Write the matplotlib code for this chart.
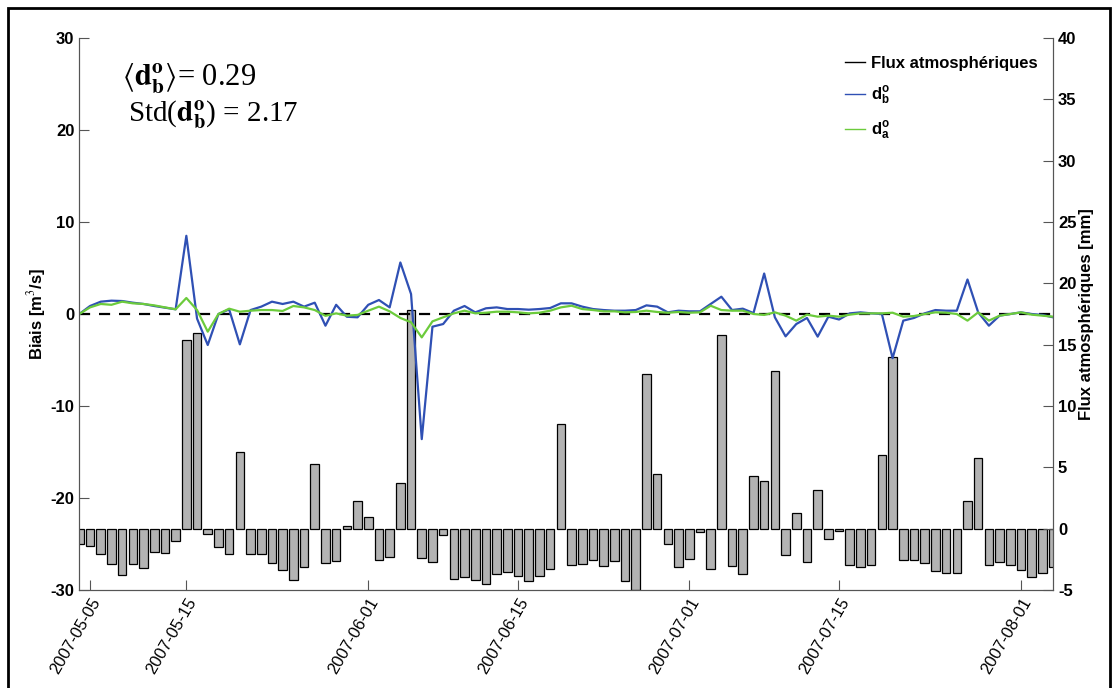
import numpy as np
import matplotlib
matplotlib.use('Agg')
import matplotlib.pyplot as plt
from matplotlib.lines import Line2D
from matplotlib.patches import Rectangle

plt.rcParams['font.family'] = ['Liberation Sans', 'DejaVu Sans']
plt.rcParams['mathtext.fontset'] = 'stix'
plt.rcParams['axes.unicode_minus'] = False

# daily values, day 0 = 2007-05-05
flux = [-1.22, -1.44, -2.04, -2.88, -3.75, -2.88, -3.23, -1.93, -1.98, -1.0,
        15.4, 15.95, -0.41, -1.52, -2.04, 6.22, -2.09, -2.09, -2.8, -3.37,
        -4.16, -3.15, 5.27, -2.8, -2.66, 0.24, 2.28, 0.92, -2.58, -2.31,
        3.72, 17.8, -2.39, -2.72, -0.52, -4.1, -3.94, -4.16, -4.51, -3.72,
        -3.53, -3.86, -4.24, -3.86, -3.29, 8.56, -2.96, -2.88, -2.58, -3.07,
        -2.66, -4.24, -4.97, 12.6, 4.48, -1.22, -3.15, -2.45, -0.3, -3.29,
        15.8, -3.02, -3.67, 4.27, 3.86, 12.85, -2.15, 1.28, -2.72, 3.15,
        -0.87, -0.19, -2.96, -3.15, -2.96, 6.0, 14.0, -2.58, -2.58, -2.8,
        -3.42, -3.6, -3.6, 2.28, 5.76, -2.93, -2.72, -2.93, -3.34, -3.97,
        -3.6, -3.12]

d_b = [0.0, 0.87, 1.34, 1.45, 1.41, 1.23, 1.09, 0.87, 0.69, 0.51,
       8.5, -0.5, -3.37, 0.0, 0.5, -3.3, 0.43, 0.8, 1.34, 1.09,
       1.34, 0.8, 1.23, -1.27, 1.0, -0.3, -0.36, 1.0, 1.52, 0.72,
       5.6, 2.17, -13.6, -1.38, -1.09, 0.36, 0.87, 0.18, 0.62, 0.72,
       0.54, 0.54, 0.47, 0.54, 0.65, 1.16, 1.16, 0.8, 0.54, 0.43,
       0.36, 0.36, 0.43, 0.94, 0.8, 0.18, 0.36, 0.29, 0.29, 1.09,
       1.88, 0.43, 0.58, 0.1, 4.4, -0.36, -2.43, -1.09, -0.43, -2.46,
       -0.29, -0.6, 0.07, 0.18, 0.07, 0.0, -4.8, -0.72, -0.43, 0.07,
       0.43, 0.36, 0.36, 3.75, 0.18, -1.27, -0.18, 0.0, 0.18, 0.0,
       -0.1, -0.36]

d_a = [0.0, 0.72, 1.09, 1.0, 1.34, 1.16, 1.09, 0.94, 0.72, 0.51,
       1.74, 0.43, -1.92, 0.0, 0.58, 0.25, 0.36, 0.43, 0.43, 0.33,
       0.87, 0.72, 0.43, -0.2, 0.07, -0.18, -0.1, 0.36, 0.8, 0.29,
       -0.43, -0.9, -2.54, -0.8, -0.36, 0.07, 0.36, 0.07, 0.14, 0.25,
       0.25, 0.18, 0.07, 0.14, 0.36, 0.72, 0.9, 0.54, 0.43, 0.29,
       0.29, 0.18, 0.22, 0.36, 0.22, 0.14, 0.22, 0.14, 0.18, 0.9,
       0.43, 0.36, 0.36, 0.0, -0.1, 0.18, -0.18, -0.72, -0.07, -0.29,
       -0.18, -0.29, -0.07, 0.07, 0.07, 0.07, 0.14, -0.29, -0.22, 0.0,
       0.18, 0.14, 0.0, -0.72, 0.18, -0.72, -0.18, 0.0, 0.18, -0.07,
       -0.18, -0.29]

tick_days = [1, 10, 27, 41, 57, 71, 88]
tick_labels = ['2007-05-05', '2007-05-15', '2007-06-01', '2007-06-15',
               '2007-07-01', '2007-07-15', '2007-08-01']

days = np.arange(len(flux))

fig = plt.figure(figsize=(11.19, 6.88), dpi=100)
ax = fig.add_axes([0.0709, 0.1424, 0.8702, 0.8024])
ax2 = ax.twinx()

ax2.bar(days, flux, width=0.8, color='#b3b3b3', edgecolor='black', linewidth=0.9)
ax2.set_ylim(-5, 40)
ax2.set_yticks(np.arange(-5, 41, 5))

ax.set_zorder(ax2.get_zorder() + 1)
ax.patch.set_visible(False)
ax.axhline(0, color='black', linestyle='--', linewidth=1.6, dashes=(5, 4))
ax.plot(days, d_b, color='#2f50b4', linewidth=1.6)
ax.plot(days, d_a, color='#6ccb3c', linewidth=1.6)
ax.set_ylim(-30, 30)
ax.set_yticks(np.arange(-30, 31, 10))
ax.set_xlim(0, 91)
ax.set_xticks(tick_days)
ax.set_xticklabels(tick_labels, rotation=60, ha='right', rotation_mode='anchor', fontsize=12)

for a in (ax, ax2):
    a.spines['top'].set_visible(False)
    for s in a.spines.values():
        s.set_color('#555555')
    a.tick_params(direction='in', length=7, color='#555555', labelsize=12)
for lab in ax.get_yticklabels() + ax2.get_yticklabels():
    lab.set_fontweight('bold')

ax.set_ylabel('Biais [m$^3$/s]', fontsize=12, fontweight='bold', labelpad=2)
ax2.set_ylabel('Flux atmosphériques [mm]', fontsize=12, fontweight='bold', labelpad=2)

ax.text(0.044, 0.926, r'$\langle\mathbf{d}_{\mathbf{b}}^{\mathbf{o}}\rangle$= 0.29',
        transform=ax.transAxes, fontsize=22, family='Liberation Serif', va='center')
ax.text(0.05, 0.861, r'Std($\mathbf{d}_{\mathbf{b}}^{\mathbf{o}}$) = 2.17',
        transform=ax.transAxes, fontsize=21, family='Liberation Serif', va='center')

handles = [Line2D([], [], color='black', linewidth=1),
           Line2D([], [], color='#2f50b4', linewidth=1),
           Line2D([], [], color='#6ccb3c', linewidth=1)]
leg = ax.legend(handles, ['Flux atmosphériques', r'd$\mathregular{_b^o}$', r'd$\mathregular{_a^o}$'],
                loc='upper right', bbox_to_anchor=(1.0, 0.995), frameon=False,
                handlelength=1.2, handletextpad=0.4, labelspacing=0.8,
                prop={'weight': 'bold', 'size': 12})

fig.patches.append(Rectangle((8 / 1119, -0.01), 1102 / 1119, 1 - 8 / 688 + 0.01,
                             transform=fig.transFigure, fill=False,
                             edgecolor='black', linewidth=2))

fig.savefig('out.png', dpi=100)
